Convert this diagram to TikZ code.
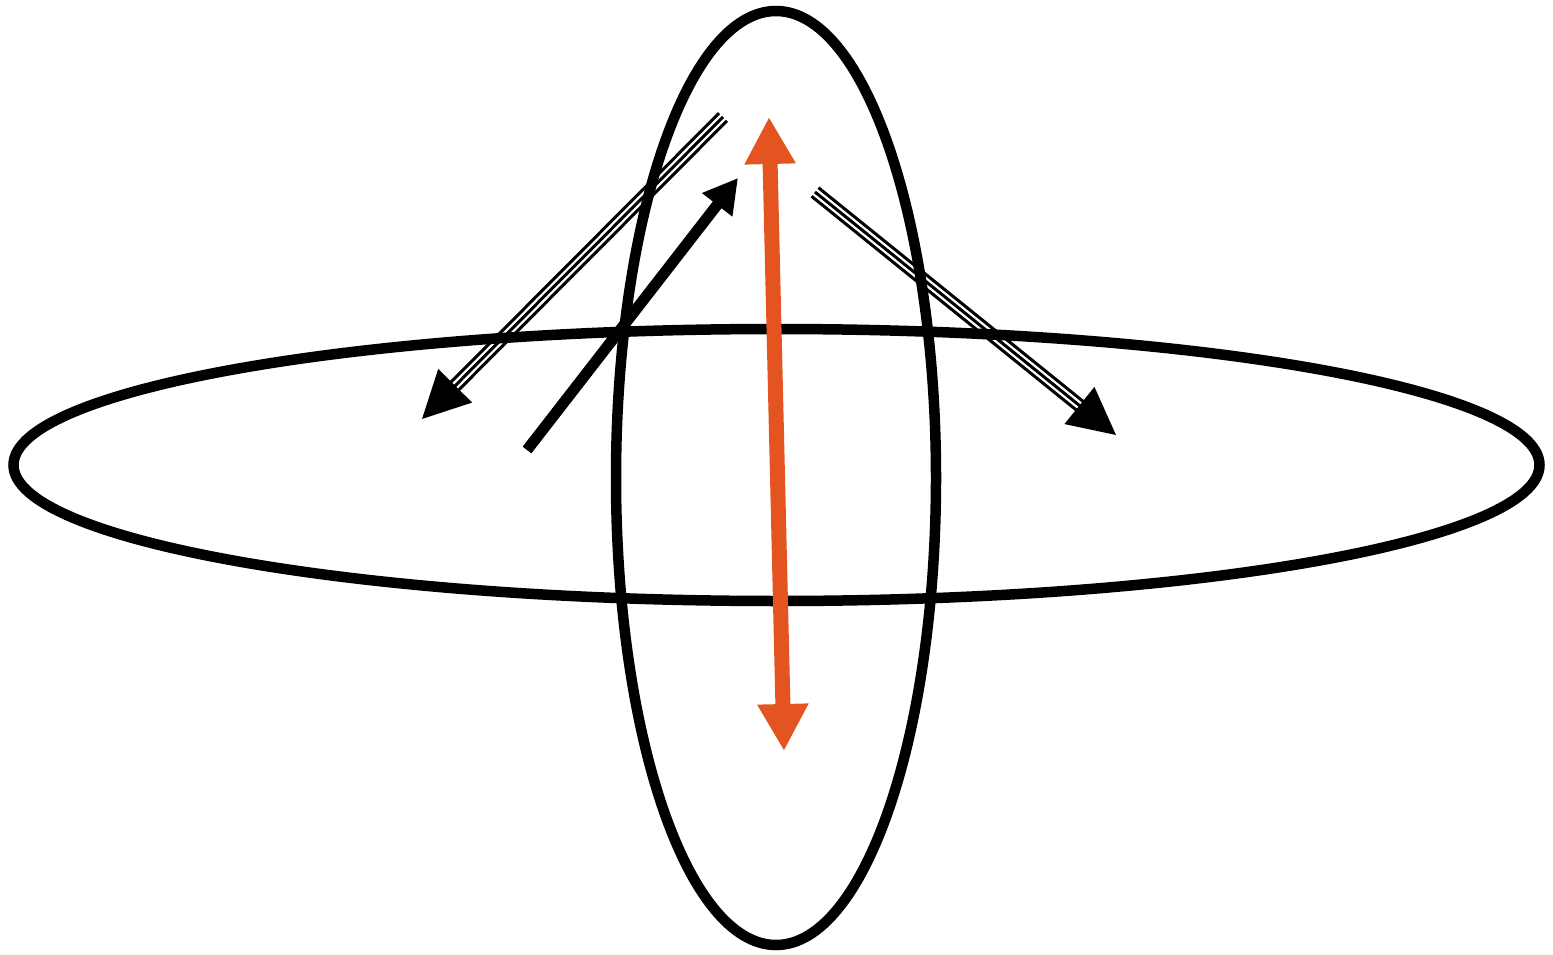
\documentclass[tikz,border=0pt]{standalone}
\usetikzlibrary{arrows.meta,calc}
\definecolor{orangeA}{HTML}{E35421}
\tikzset{
  ring/.style={draw=black,line width=10.5pt},
  thickarr/.style={draw=black,line width=11pt,-{Triangle[length=34pt,width=36pt]}},
  orangearr/.style={draw=orangeA,line width=15pt,{Triangle[length=47pt,width=48pt]}-{Triangle[length=47pt,width=48pt]}},
  thinline/.style={draw=black,line width=3pt},
  thinarr/.style={draw=black,line width=3pt,-{Triangle[length=47pt,width=47pt]}}
}
\begin{document}
\begin{tikzpicture}[x=1pt,y=-1pt]
\useasboundingbox (0,0) rectangle (1553,955);
% rings
\draw[ring] (776.5,465) ellipse [x radius=763pt, y radius=136pt];
\draw[ring] (776,478) ellipse [x radius=160pt, y radius=467pt];
% coordinates
\coordinate (Lt) at (723,117);
\coordinate (Lh) at (422,419);
\coordinate (Rt) at (815,192);
\coordinate (Rh) at (1116,435);
\coordinate (Kt) at (527,450);
\coordinate (Kh) at (738,178);
\coordinate (Ot) at (769,117);
\coordinate (Ob) at (784,751);
% left triple arrow
\coordinate (Lb) at ($(Lh)!44pt!(Lt)$);
\draw[thinarr] (Lt) -- (Lh);
\draw[thinline] ($(Lt)!5.5pt!90:(Lb)$) -- ($(Lb)!5.5pt!-90:(Lt)$);
\draw[thinline] ($(Lt)!5.5pt!-90:(Lb)$) -- ($(Lb)!5.5pt!90:(Lt)$);
% right triple arrow
\coordinate (Rb) at ($(Rh)!44pt!(Rt)$);
\draw[thinarr] (Rt) -- (Rh);
\draw[thinline] ($(Rt)!5.5pt!90:(Rb)$) -- ($(Rb)!5.5pt!-90:(Rt)$);
\draw[thinline] ($(Rt)!5.5pt!-90:(Rb)$) -- ($(Rb)!5.5pt!90:(Rt)$);
% thick black arrow
\draw[thickarr] (Kt) -- (Kh);
% orange double arrow
\draw[orangearr] (Ot) -- (Ob);
\end{tikzpicture}
\end{document}
